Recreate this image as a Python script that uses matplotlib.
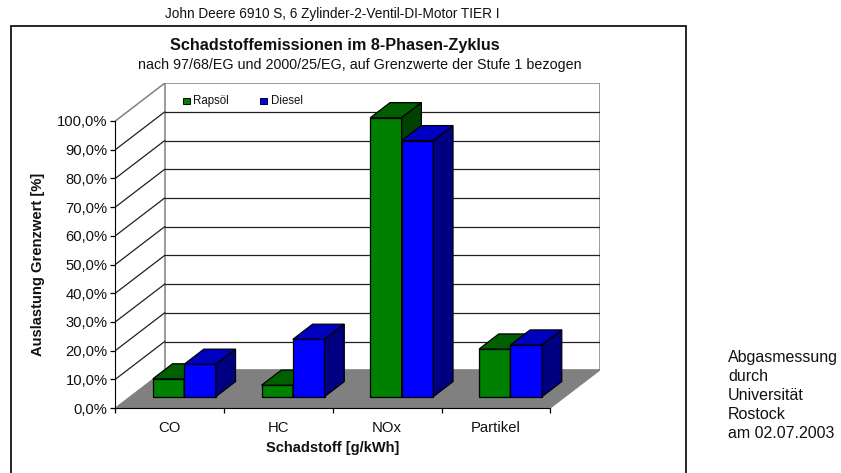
import numpy as np
import matplotlib
matplotlib.use('Agg')
import matplotlib.pyplot as plt
from matplotlib.patches import Polygon, Rectangle

plt.rcParams['font.family'] = ['Liberation Sans', 'DejaVu Sans']

CATEGORIES = ['CO', 'HC', 'NOx', 'Partikel']
RAPSOEL = [6.2, 4.0, 97.2, 16.6]
DIESEL = [11.3, 20.0, 89.2, 18.0]
Y_TICKS = [0, 10, 20, 30, 40, 50, 60, 70, 80, 90, 100]
NOTE = ['Abgasmessung', 'durch', 'Universität', 'Rostock', 'am 02.07.2003']

W, H = 841, 473
DEPTH_X = 0.4535  # wall offset in category widths
DEPTH_Y = 13.15  # wall offset in percent
GREEN = ('#008000', '#006000', '#004000')
BLUE = ('#0000ff', '#0000c0', '#000080')


def depth(x, y, d):
    return x + d * DEPTH_X, y + d * DEPTH_Y


def bar3d(ax, x0, x1, value, colors, z=3):
    # front, top and side faces of one column
    d0, d1 = 0.3, 0.7
    front = [depth(x0, 0, d0), depth(x1, 0, d0), depth(x1, value, d0), depth(x0, value, d0)]
    top = [depth(x0, value, d0), depth(x1, value, d0), depth(x1, value, d1), depth(x0, value, d1)]
    side = [depth(x1, 0, d0), depth(x1, 0, d1), depth(x1, value, d1), depth(x1, value, d0)]
    for poly, col in zip((front, top, side), colors):
        ax.add_patch(Polygon(poly, closed=True, facecolor=col, edgecolor='black', lw=0.9, zorder=z))


fig = plt.figure(figsize=(W / 100, H / 100), dpi=100)
fig.patch.set_facecolor('white')

# chart frame, its lower edge runs past the bottom of the figure
fig.add_artist(Rectangle((10.5 / W, 1 - 480 / H), 675.5 / W, 453.5 / H, transform=fig.transFigure,
                         facecolor='white', edgecolor='black', lw=1.2, zorder=-1))

ax = fig.add_axes([115.3 / W, 1 - 408 / H, (600.3 - 115.3) / W, (408 - 83) / H])
ax.patch.set_alpha(0)
ax.set_xlim(0, 485 / 108.75)
ax.set_ylim(0, 325 / 2.87)

# back wall with gridlines, side wall, floor
ax.add_patch(Polygon([depth(0, 0, 1), depth(4, 0, 1), depth(4, 100, 1), depth(0, 100, 1)],
                     closed=True, facecolor='white', edgecolor='#808080', lw=1.1, zorder=1))
ax.add_patch(Polygon([depth(0, 0, 0), depth(4, 0, 0), depth(4, 0, 1), depth(0, 0, 1)],
                     closed=True, facecolor='#808080', edgecolor='#808080', lw=0.8, zorder=1.5))
for t in Y_TICKS[1:-1]:
    ax.plot(*zip(depth(0, t, 1), depth(4, t, 1)), color='#202020', lw=0.9, zorder=1.2)
for t in Y_TICKS[1:-1]:
    ax.plot(*zip(depth(0, t, 0), depth(0, t, 1)), color='#202020', lw=0.9, zorder=1.2)
ax.plot(*zip(depth(0, 100, 0), depth(0, 100, 1)), color='#808080', lw=1.1, zorder=1.3)

for i in range(len(CATEGORIES)):
    bar3d(ax, i + 0.209, i + 0.497, RAPSOEL[i], GREEN, z=3 + i)
    bar3d(ax, i + 0.497, i + 0.788, DIESEL[i], BLUE, z=3 + i + 0.5)

for s in ('top', 'right'):
    ax.spines[s].set_visible(False)
ax.spines['left'].set_bounds(0, 100)
ax.spines['bottom'].set_bounds(0, 4)
ax.set_yticks(Y_TICKS)
ax.yaxis.set_major_formatter(lambda v, p: ('%.1f%%' % v).replace('.', ','))
ax.set_xticks(range(5))
ax.set_xticklabels([])
ax.set_xticks(np.arange(4) + 0.5, CATEGORIES, minor=True)
ax.tick_params(axis='x', which='minor', length=0, labelsize=10.7, pad=9, colors='#111111')
ax.tick_params(axis='x', which='major', length=3.6, width=0.9)
ax.tick_params(axis='y', length=3.6, width=0.9, labelsize=10.6, pad=2, labelcolor='#111111')

# legend sits on the back wall
for x, col, name in ((183, '#008000', 'Rapsöl'), (260.3, '#0000ff', 'Diesel')):
    fig.add_artist(Rectangle((x / W, 1 - 104.5 / H), 6.5 / W, 6.5 / H, transform=fig.transFigure,
                             facecolor=col, edgecolor='black', lw=0.7))
    fig.text((x + 10.5) / W, 1 - 101 / H, name, fontsize=8.3, va='center', color='#111111')


def label(x, y, s, **kw):
    fig.text(x / W, 1 - y / H, s, va='center', color='#111111', **kw)


label(332, 14, 'John Deere 6910 S, 6 Zylinder-2-Ventil-DI-Motor TIER I', fontsize=9.8, ha='center')
label(334.5, 45.5, 'Schadstoffemissionen im 8-Phasen-Zyklus', fontsize=11.7, ha='center', fontweight='bold')
label(360, 65.5, 'nach 97/68/EG und 2000/25/EG, auf Grenzwerte der Stufe 1 bezogen', fontsize=10.3, ha='center')
label(333, 448, 'Schadstoff [g/kWh]', fontsize=10.5, ha='center', fontweight='bold')
label(38, 264, 'Auslastung Grenzwert [%]', fontsize=10.6, ha='center', rotation=90, fontweight='bold')
for k, line in enumerate(NOTE):
    label(728, 357.5 + 19 * k, line, fontsize=11.5, ha='left')

fig.savefig('out.png', dpi=100)
